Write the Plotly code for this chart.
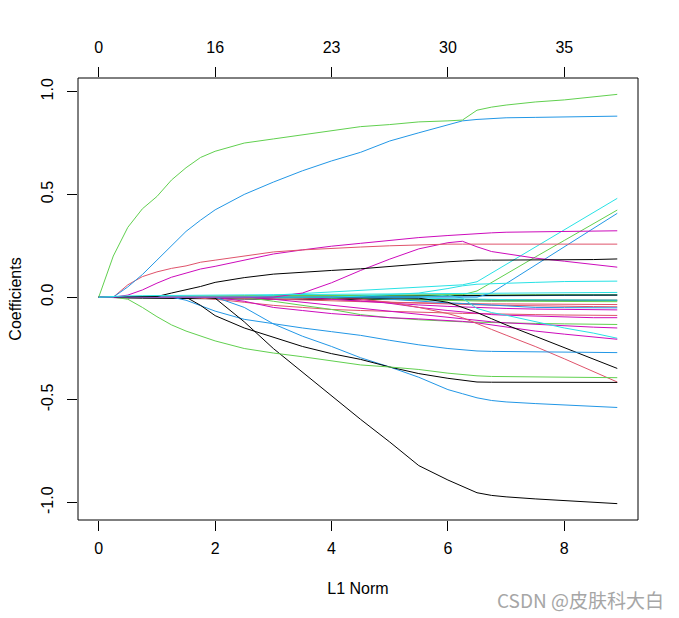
import plotly.graph_objects as go

# L1 norm grid (x axis of the coefficient path plot)
l1_norm = [0, 0.25, 0.5, 0.75, 1.0, 1.25, 1.5, 1.75, 2.0, 2.5, 3.0, 3.5, 4.0,
           4.5, 5.0, 5.5, 6.0, 6.25, 6.5, 6.75, 7.0, 7.5, 8.0, 8.5, 8.91]

# top axis: number of non-zero coefficients at the bottom ticks
df_tick_pos = [0, 2, 4, 6, 8]
df_tick_labels = ["0", "16", "23", "30", "35"]
y_tick_vals = [-1.0, -0.5, 0.0, 0.5, 1.0]
y_tick_labels = ["-1.0", "-0.5", "0.0", "0.5", "1.0"]

# coefficient paths
coef_green_top = [0, 0.20, 0.34, 0.43, 0.49, 0.57, 0.63, 0.68, 0.71, 0.75, 0.77, 0.79, 0.81,
                  0.83, 0.84, 0.853, 0.858, 0.862, 0.91, 0.925, 0.935, 0.95, 0.96, 0.975, 0.987]
coef_blue_top = [0, 0, 0.05, 0.11, 0.18, 0.25, 0.32, 0.375, 0.425, 0.50, 0.56, 0.615, 0.663,
                 0.705, 0.76, 0.80, 0.84, 0.858, 0.865, 0.87, 0.873, 0.875, 0.877, 0.879, 0.881]
coef_red_flat = [0, 0, 0.06, 0.10, 0.123, 0.14, 0.152, 0.17, 0.18, 0.20, 0.22, 0.23, 0.238,
                 0.244, 0.25, 0.255, 0.258, 0.258, 0.258, 0.258, 0.258, 0.258, 0.258, 0.258, 0.258]
coef_magenta_top = [0, 0, 0.01, 0.035, 0.068, 0.097, 0.117, 0.137, 0.15, 0.18, 0.21, 0.23, 0.248,
                    0.262, 0.277, 0.29, 0.30, 0.305, 0.31, 0.313, 0.316, 0.318, 0.32, 0.321, 0.323]
coef_black_pos = [0, 0, 0, 0, 0.003, 0.02, 0.035, 0.052, 0.072, 0.095, 0.112, 0.122, 0.13,
                  0.138, 0.15, 0.163, 0.172, 0.176, 0.18, 0.18, 0.18, 0.181, 0.182, 0.183, 0.186]
coef_magenta_hump = [0, 0, 0, 0, 0, 0, 0, 0, 0, 0, 0, 0.02, 0.07,
                     0.13, 0.185, 0.235, 0.265, 0.272, 0.245, 0.222, 0.212, 0.19, 0.175, 0.16, 0.146]
coef_cyan_rise = [0, 0, 0, 0, 0, 0, 0, 0, 0, 0, 0.01, 0.018, 0.025,
                  0.032, 0.042, 0.05, 0.057, 0.06, 0.075, 0.117, 0.159, 0.243, 0.328, 0.412, 0.481]
coef_cyan_flat = [0, 0, 0, 0, 0, 0, 0, 0, 0, 0, 0, 0, 0,
                  0.005, 0.012, 0.02, 0.042, 0.055, 0.063, 0.066, 0.068, 0.072, 0.076, 0.078, 0.078]
coef_green_rise = [0, 0, 0, 0, 0, 0, 0, 0, 0.003, 0.005, 0.006, 0.007, 0.008,
                   0.009, 0.01, 0.01, 0.011, 0.012, 0.03, 0.072, 0.113, 0.195, 0.276, 0.358, 0.424]
coef_blue_rise = [0, 0, 0, 0, 0, 0, 0, 0, 0, 0, 0, 0, 0,
                  0, 0, 0, 0, 0, 0, 0.021, 0.066, 0.156, 0.245, 0.335, 0.408]
coef_cyan_small = [0, 0.004, 0.006, 0.007, 0.008, 0.009, 0.009, 0.01, 0.01, 0.011, 0.012, 0.013, 0.014,
                   0.015, 0.016, 0.017, 0.018, 0.018, 0.019, 0.02, 0.02, 0.021, 0.022, 0.022, 0.023]
coef_green_small = [0, 0.002, 0.003, 0.004, 0.005, 0.005, 0.006, 0.006, 0.007, 0.007, 0.008, 0.008, 0.009,
                    0.009, 0.01, 0.01, 0.01, 0.01, 0.011, 0.011, 0.011, 0.012, 0.012, 0.012, 0.012]
coef_blue_small = [0, 0, 0, 0, 0, 0, 0, 0, 0, 0, 0, 0, 0,
                   0, 0.002, 0.004, 0.005, 0.005, 0.006, 0.006, 0.007, 0.008, 0.009, 0.01, 0.01]
coef_black_small_neg = [0, -0.003, -0.004, -0.005, -0.006, -0.006, -0.007, -0.007, -0.008, -0.009, -0.01, -0.01, -0.011,
                        -0.011, -0.012, -0.012, -0.013, -0.013, -0.013, -0.014, -0.014, -0.014, -0.015, -0.015, -0.015]
coef_black_small_pos = [0, 0, 0, 0, 0, 0, 0, 0, 0, 0.002, 0.003, 0.004, 0.005,
                        0.005, 0.006, 0.007, 0.008, 0.008, 0.008, 0.009, 0.009, 0.009, 0.01, 0.01, 0.01]
coef_green_low = [0, 0, -0.01, -0.05, -0.095, -0.135, -0.165, -0.19, -0.213, -0.25, -0.272, -0.29, -0.31,
                  -0.33, -0.34, -0.352, -0.37, -0.377, -0.383, -0.386, -0.387, -0.388, -0.389, -0.39, -0.392]
coef_black_low = [0, 0, 0, 0, 0, 0, 0, -0.04, -0.09, -0.15, -0.195, -0.24, -0.275,
                  -0.303, -0.34, -0.372, -0.395, -0.405, -0.413, -0.414, -0.414, -0.414, -0.414, -0.414, -0.415]
coef_black_steep = [0, 0, 0, 0, 0, 0, 0, 0, -0.005, -0.12, -0.25, -0.365, -0.48,
                    -0.595, -0.705, -0.82, -0.89, -0.92, -0.952, -0.965, -0.972, -0.982, -0.99, -0.998, -1.005]
coef_blue_mid = [0, 0, 0, 0, 0, 0, -0.015, -0.04, -0.068, -0.108, -0.13, -0.15, -0.168,
                 -0.186, -0.21, -0.232, -0.25, -0.256, -0.262, -0.264, -0.265, -0.267, -0.268, -0.269, -0.27]
coef_blue_low = [0, 0, 0, 0, 0, 0, 0, 0, 0, -0.05, -0.13, -0.19, -0.24,
                 -0.295, -0.34, -0.39, -0.45, -0.47, -0.49, -0.503, -0.51, -0.518, -0.525, -0.532, -0.537]
coef_black_late = [0, 0, 0, 0, 0, 0, 0, 0, 0, 0, 0, -0.002, -0.003,
                   -0.004, -0.004, -0.005, -0.025, -0.05, -0.075, -0.105, -0.135, -0.19, -0.245, -0.3, -0.347]
coef_red_late = [0, 0, 0, 0, 0, 0, 0, 0, 0, 0, 0, 0, 0,
                 -0.01, -0.025, -0.05, -0.08, -0.1, -0.13, -0.157, -0.185, -0.24, -0.3, -0.362, -0.413]
coef_magenta_neg1 = [0, 0, 0, 0, 0, 0, 0, 0, 0, -0.02, -0.05, -0.065, -0.08,
                     -0.09, -0.1, -0.106, -0.112, -0.118, -0.125, -0.135, -0.145, -0.165, -0.18, -0.195, -0.205]
coef_cyan_neg = [0, 0, 0, 0, 0, 0, 0, 0, 0, 0, 0, 0, 0,
                 0, 0, 0, 0.01, -0.005, -0.055, -0.075, -0.088, -0.12, -0.15, -0.175, -0.2]
coef_magenta_neg2 = [0, 0, 0, 0, 0, 0, 0, 0, 0, 0, -0.01, -0.025, -0.04,
                     -0.055, -0.07, -0.085, -0.1, -0.108, -0.115, -0.12, -0.125, -0.133, -0.14, -0.146, -0.15]
coef_magenta_neg3 = [0, 0, 0, 0, 0, 0, 0, 0, 0, 0, 0, 0, 0,
                     -0.01, -0.03, -0.05, -0.065, -0.072, -0.08, -0.085, -0.088, -0.093, -0.097, -0.1, -0.1]
coef_green_neg = [0, 0, 0, 0, 0, 0, 0, 0, 0, 0, -0.02, -0.04, -0.06,
                  -0.085, -0.1, -0.11, -0.118, -0.12, -0.122, -0.124, -0.125, -0.128, -0.13, -0.132, -0.133]
coef_red_neg1 = [0, 0, 0, 0, 0, 0, 0, -0.005, -0.01, -0.025, -0.04, -0.05, -0.06,
                 -0.065, -0.07, -0.074, -0.078, -0.079, -0.08, -0.082, -0.083, -0.085, -0.087, -0.088, -0.089]
coef_red_neg2 = [0, 0, 0, 0, 0, 0, 0, 0, 0, -0.005, -0.01, -0.014, -0.018,
                 -0.022, -0.025, -0.028, -0.03, -0.031, -0.032, -0.033, -0.033, -0.034, -0.035, -0.036, -0.036]
coef_blue_neg = [0, 0, 0, 0, 0, 0, 0, 0, 0, 0, 0, 0, 0,
                 0, -0.01, -0.02, -0.028, -0.031, -0.035, -0.04, -0.045, -0.05, -0.051, -0.052, -0.052]
coef_red_neg3 = [0, 0, 0, 0, 0, 0, 0, 0, 0, 0, 0, -0.005, -0.01,
                 -0.018, -0.025, -0.03, -0.035, -0.037, -0.038, -0.039, -0.04, -0.043, -0.045, -0.046, -0.047]
coef_green_neg2 = [0, 0, 0, 0, 0, 0, 0, 0, 0, 0, 0, 0, -0.005,
                   -0.008, -0.012, -0.015, -0.018, -0.019, -0.019, -0.02, -0.02, -0.021, -0.022, -0.022, -0.022]
coef_cyan_neg2 = [0, 0, 0, 0, 0, 0, 0, 0, 0, 0, 0, 0, 0,
                  0, -0.003, -0.005, -0.008, -0.009, -0.01, -0.011, -0.012, -0.013, -0.014, -0.015, -0.015]
coef_magenta_neg4 = [0, 0, 0, 0, 0, 0, 0, 0, 0, 0, 0, 0, -0.01,
                     -0.02, -0.03, -0.038, -0.045, -0.048, -0.05, -0.052, -0.055, -0.058, -0.06, -0.061, -0.062]

# R default palette colours used by matplot
BLACK, RED, GREEN, BLUE, CYAN, MAGENTA = "#000000", "#DF536B", "#61D04F", "#2297E6", "#28E2E5", "#CD0BBC"

paths = [
    (coef_black_small_neg, BLACK), (coef_green_small, GREEN), (coef_blue_small, BLUE),
    (coef_black_small_pos, BLACK), (coef_cyan_neg2, CYAN), (coef_green_neg2, GREEN),
    (coef_red_neg2, RED), (coef_red_neg3, RED), (coef_blue_neg, BLUE), (coef_magenta_neg4, MAGENTA),
    (coef_red_neg1, RED), (coef_magenta_neg3, MAGENTA), (coef_green_neg, GREEN),
    (coef_magenta_neg2, MAGENTA), (coef_cyan_neg, CYAN), (coef_magenta_neg1, MAGENTA),
    (coef_red_late, RED), (coef_black_late, BLACK), (coef_blue_low, BLUE), (coef_blue_mid, BLUE),
    (coef_black_steep, BLACK), (coef_black_low, BLACK), (coef_green_low, GREEN),
    (coef_blue_rise, BLUE), (coef_green_rise, GREEN), (coef_cyan_flat, CYAN), (coef_cyan_rise, CYAN),
    (coef_magenta_hump, MAGENTA), (coef_black_pos, BLACK), (coef_magenta_top, MAGENTA),
    (coef_red_flat, RED), (coef_blue_top, BLUE), (coef_green_top, GREEN), (coef_cyan_small, CYAN),
]

fig = go.Figure()
for ys, col in paths:
    fig.add_trace(go.Scatter(x=l1_norm, y=ys, mode="lines", line=dict(color=col, width=1),
                             showlegend=False, hoverinfo="skip"))
# invisible trace to anchor the top axis
fig.add_trace(go.Scatter(x=[0], y=[0], xaxis="x2", mode="markers", marker=dict(opacity=0),
                         showlegend=False, hoverinfo="skip"))

# R-like 4% axis extension
all_y = [v for ys, _ in paths for v in ys]
xmin, xmax = min(l1_norm), max(l1_norm)
ymin, ymax = min(all_y), max(all_y)
xr = [xmin - 0.04 * (xmax - xmin), xmax + 0.04 * (xmax - xmin)]
yr = [ymin - 0.04 * (ymax - ymin), ymax + 0.04 * (ymax - ymin)]

FONT = dict(family="Liberation Sans, Arial", size=16, color="black")
axis_common = dict(showgrid=False, zeroline=False, showline=False, ticks="outside",
                   ticklen=10, tickwidth=1, tickcolor="black", tickfont=FONT)

fig.update_layout(
    width=679, height=618,
    margin=dict(l=78, r=41, t=78, b=98),
    paper_bgcolor="white", plot_bgcolor="white",
    font=FONT,
    xaxis=dict(range=xr, tickvals=df_tick_pos, ticktext=[str(v) for v in df_tick_pos],
               ticklabelstandoff=4,
               title=dict(text="L1 Norm", font=FONT, standoff=26), **axis_common),
    xaxis2=dict(range=xr, overlaying="x", side="top", tickvals=df_tick_pos, ticktext=df_tick_labels,
                ticklabelstandoff=8, **axis_common),
    yaxis=dict(range=yr, tickvals=y_tick_vals, ticktext=y_tick_labels, tickangle=-90,
               ticklabelstandoff=8,
               title=dict(text="Coefficients", font=FONT, standoff=12), **axis_common),
    shapes=[dict(type="rect", xref="paper", yref="paper", x0=0, y0=0, x1=1, y1=1,
                 line=dict(color="black", width=1), fillcolor="rgba(0,0,0,0)")],
    annotations=[dict(text="CSDN @皮肤科大白", xref="paper", yref="paper",
                      x=(666 - 78) / 560, y=-0.18,
                      xanchor="right", yanchor="middle", showarrow=False,
                      font=dict(family="Noto Sans CJK SC", size=19, color="#A6A6A6"))],
)

fig.write_html("out.html")
